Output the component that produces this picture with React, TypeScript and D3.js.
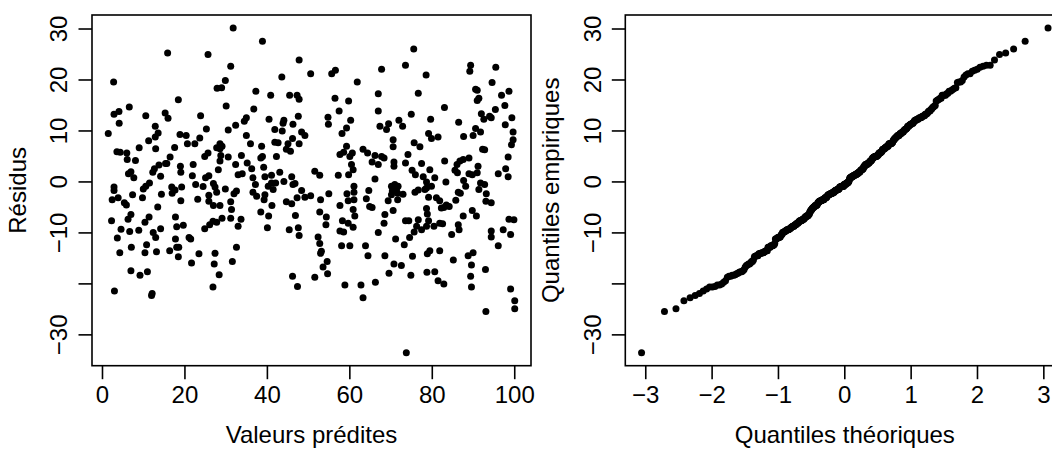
import React from "react";
import * as d3 from "d3";

// Residuals vs fitted values: [fitted, residual]
const residualPoints: [number, number][] = [
  // x 0-20, upper
  [15.8, 25.3], [2.7, 19.6], [18.4, 16.1], [2.8, 13.3], [4.0, 13.8], [6.5, 14.7], [4.05, 11.5], [10.5, 13.0],
  [15.2, 13.5], [15.9, 12.5], [1.4, 9.5], [12.8, 10.9], [13.5, 9.6], [12.8, 8.8], [11.2, 8.1], [18.8, 9.3],
  [8.9, 6.7], [12.9, 6.5], [17.5, 6.75], [3.5, 5.9], [4.3, 5.8], [5.9, 5.7], [6.0, 4.4], [8.0, 4.2],
  [16.4, 4.9], [15.6, 3.6], [13.7, 3.3], [12.6, 2.6], [12.2, 1.9], [18.9, 3.1], [19.0, 1.9], [6.3, 1.6],
  [6.9, 2.0], [7.6, 0.8], [14.1, 1.1], [11.4, -0.2], [2.8, -1.0], [10.5, -0.85], [9.9, -1.4], [16.8, -1.0],
  [17.6, -1.6], [19.2, -1.0], [15.3, 3.6],
  // x 0-20, lower
  [2.8, -1.7], [2.35, -3.5], [3.8, -3.1], [5.8, -4.5], [5.3, -4.1], [7.3, -2.5], [9.7, -3.1], [14.3, -2.4],
  [16.9, -2.2], [19.0, -3.7], [13.4, -4.9], [2.2, -7.6], [6.2, -7.3], [6.9, -6.4], [11.3, -6.9], [10.3, -7.9],
  [17.7, -6.9], [18.0, -8.8], [19.6, -8.5], [4.5, -9.3], [6.6, -9.7], [8.8, -9.5], [12.3, -9.9], [14.1, -9.2],
  [3.6, -11.0], [12.9, -10.9], [17.7, -11.2], [18.5, -12.8], [18.0, -12.8], [7.0, -12.8], [10.7, -12.3], [10.3, -13.9],
  [4.2, -13.9], [13.1, -13.7], [16.3, -13.5], [18.4, -14.7], [6.9, -17.4], [9.1, -18.3], [10.9, -17.6], [2.9, -21.4],
  [11.9, -22.3], [12.05, -21.9],
  // x 20-41, upper
  [31.7, 30.2], [38.8, 27.6], [25.6, 25.0], [31.1, 22.7], [29.8, 19.9], [27.8, 18.4], [28.9, 18.5], [37.2, 17.8],
  [40.8, 17.0], [30.0, 14.9], [36.7, 14.3], [23.8, 13.0], [34.9, 12.6], [34.4, 11.9], [40.4, 12.3], [32.3, 11.1],
  [30.5, 10.2], [25.2, 10.4], [34.9, 9.1], [20.3, 9.1], [23.6, 8.6], [22.4, 7.5], [20.6, 7.5], [28.5, 7.5],
  [35.9, 7.5], [38.6, 7.0], [27.7, 6.7], [28.5, 6.5], [29.0, 7.0], [24.8, 5.0], [25.6, 5.7], [28.7, 5.2],
  [28.5, 4.1], [30.5, 4.9], [33.7, 5.2], [38.8, 5.0], [38.4, 4.7], [22.0, 3.4], [32.3, 3.4], [35.1, 3.7],
  [36.2, 2.6], [39.1, 2.9], [28.1, 2.4], [32.9, 1.4], [33.9, 1.6], [21.8, 1.2], [25.8, 1.2], [25.0, 0.8],
  [36.5, 0.8], [39.4, 1.0], [26.9, -0.3], [22.6, -0.5], [29.8, -1.4], [37.1, -0.5], [40.2, -0.85], [24.4, -0.9],
  [27.3, -1.0],
  // x 20-41, lower
  [27.7, -2.0], [32.5, -1.8], [31.9, -2.3], [25.8, -2.6], [23.1, -3.4], [25.8, -3.8], [26.9, -4.6], [28.5, -4.6],
  [31.1, -3.9], [31.3, -5.4], [36.5, -2.0], [37.4, -2.8], [39.4, -2.5], [39.2, -3.5], [41.1, -4.6], [38.4, -5.9],
  [40.3, -6.7], [29.0, -7.1], [31.1, -7.1], [33.6, -7.3], [27.7, -7.9], [26.8, -7.7], [26.0, -8.4], [24.8, -9.2],
  [32.9, -8.7], [40.0, -9.0], [21.0, -10.9], [21.4, -11.2], [32.5, -12.8], [23.4, -14.1], [27.3, -14.0], [21.6, -15.9],
  [27.1, -16.1], [31.5, -15.6], [28.3, -18.2], [26.8, -20.6],
  // x 41-62, upper
  [47.7, 23.9], [43.5, 20.6], [50.5, 21.2], [55.6, 21.2], [56.5, 21.9], [61.8, 19.6], [45.4, 17.0], [47.2, 17.0],
  [47.7, 16.2], [56.4, 16.4], [59.7, 15.9], [57.4, 13.9], [47.5, 12.9], [54.7, 12.7], [54.8, 11.3], [44.0, 12.1],
  [43.8, 11.5], [46.2, 11.3], [60.2, 12.1], [59.2, 10.6], [41.8, 10.3], [43.6, 10.0], [48.3, 9.8], [49.1, 9.1],
  [58.1, 9.5], [46.1, 8.5], [41.8, 7.8], [42.6, 7.7], [45.0, 7.5], [44.6, 6.4], [45.6, 6.0], [47.7, 7.5],
  [42.2, 5.0], [59.2, 7.0], [58.5, 5.8], [57.6, 5.4], [60.0, 5.0], [60.6, 5.7], [60.4, 3.4], [60.8, 2.4],
  [59.7, 1.4], [51.5, 2.1], [52.7, 1.3], [57.2, 1.3], [43.0, 1.9], [41.0, 1.3], [45.9, 1.0], [44.0, 0.1],
  [42.0, -0.2], [41.0, -0.2], [46.2, -0.5], [46.7, -0.3], [61.0, -0.85],
  // x 41-62, lower
  [41.4, -1.5], [48.3, -1.7], [47.2, -3.1], [49.1, -3.0], [50.5, -2.7], [44.6, -3.9], [45.9, -4.3], [52.9, -3.5],
  [54.9, -2.3], [59.3, -2.3], [59.6, -3.7], [61.0, -3.5], [61.0, -2.0], [57.6, -4.6], [60.8, -5.4], [61.2, -6.7],
  [46.8, -6.6], [52.7, -5.9], [54.3, -6.9], [58.2, -7.6], [59.6, -8.1], [60.8, -8.9], [54.2, -8.4], [45.3, -9.4],
  [47.5, -9.0], [47.7, -10.5], [57.6, -9.6], [58.5, -9.8], [52.3, -10.8], [52.7, -12.1], [53.1, -13.6], [52.9, -14.0],
  [58.0, -12.5], [60.0, -12.5], [54.5, -15.6], [53.5, -16.7], [54.6, -18.0], [46.1, -18.5], [51.5, -18.7], [47.3, -20.5],
  [58.8, -20.2],
  // x 62-82, upper
  [75.5, 26.1], [73.5, 22.9], [67.7, 22.1], [78.5, 21.0], [66.9, 17.3], [76.6, 17.4], [66.9, 13.9], [74.9, 13.3],
  [79.6, 12.3], [71.9, 12.1], [72.8, 10.9], [67.3, 10.9], [68.9, 10.3], [69.4, 11.4], [79.1, 9.5], [79.8, 8.5],
  [81.4, 8.8], [70.5, 8.3], [70.5, 6.9], [75.6, 7.7], [77.0, 6.9], [63.2, 6.4], [64.3, 5.7], [66.1, 5.2],
  [67.7, 5.0], [66.9, 3.4], [68.3, 4.7], [65.4, 3.9], [70.7, 3.9], [70.7, 3.1], [73.5, 3.7], [74.1, 5.4],
  [77.4, 3.6], [79.4, 2.4], [75.1, 2.3], [75.9, 1.4], [77.8, 1.0], [78.6, 0.0], [80.6, 0.8], [66.1, 0.6],
  [70.1, -0.85], [71.3, -1.5], [70.9, -0.5], [71.7, -0.85], [76.6, -1.6], [78.6, -1.2], [79.8, -0.85],
  // x 62-82, lower
  [64.6, -1.7], [64.0, -3.3], [70.3, -1.8], [71.6, -2.2], [70.1, -2.5], [72.9, -2.4], [69.3, -3.7], [71.6, -3.5],
  [75.8, -2.0], [78.2, -1.5], [79.1, -3.0], [81.0, -3.1], [81.8, -3.7], [78.6, -5.2], [78.8, -6.3], [82.2, -5.1],
  [68.5, -6.4], [68.3, -8.1], [70.5, -5.6], [66.9, -9.9], [73.5, -7.6], [74.3, -7.6], [76.6, -7.4], [76.2, -8.7],
  [75.6, -9.8], [77.4, -9.4], [78.6, -8.7], [79.1, -7.6], [80.4, -8.7], [81.8, -8.1], [74.5, -10.9], [71.1, -11.2],
  [73.2, -12.3], [63.8, -12.5], [64.4, -14.5], [68.5, -14.5], [75.2, -14.6], [70.7, -16.1], [72.5, -16.4], [78.8, -14.1],
  [79.4, -13.5], [81.8, -13.5], [78.7, -17.7], [80.6, -17.6], [69.5, -17.9], [74.8, -18.3], [81.4, -19.4], [62.7, -20.2],
  [66.2, -19.7], [63.2, -22.7], [73.7, -33.5], [64.8, -4.8], [65.4, -5.0],
  // x 82-100, upper
  [89.3, 22.9], [89.1, 21.7], [95.4, 22.5], [94.5, 19.5], [90.5, 18.2], [90.9, 18.0], [90.9, 16.0], [91.3, 16.4],
  [96.8, 17.0], [98.6, 17.8], [97.6, 15.0], [82.95, 14.6], [91.9, 13.4], [95.3, 14.2], [94.3, 12.6], [93.9, 12.9],
  [92.5, 12.3], [99.3, 12.6], [86.4, 11.7], [97.7, 11.2], [90.5, 10.5], [91.7, 9.8], [99.6, 9.8], [99.6, 8.3],
  [99.2, 7.3], [89.9, 9.1], [87.6, 8.9], [92.2, 6.4], [92.7, 6.3], [98.4, 4.9], [83.0, 4.1], [88.9, 4.7],
  [87.5, 4.4], [86.7, 4.1], [86.0, 3.4], [85.5, 2.3], [91.1, 3.1], [86.1, 1.8], [88.9, 1.6], [89.7, 1.4],
  [90.9, 1.8], [97.8, 2.6], [96.0, 1.6], [98.4, 1.0], [83.3, 0.0], [87.6, 0.3], [88.1, -0.85], [91.7, -0.2],
  [92.7, -0.5],
  // x 82-100, lower
  [86.8, -2.2], [86.3, -2.0], [93.1, -2.3], [91.3, -1.5], [94.3, -4.1], [93.0, -3.8], [83.4, -4.5], [82.8, -5.0],
  [84.1, -4.8], [85.7, -3.6], [89.7, -5.6], [90.7, -6.7], [87.5, -6.7], [98.6, -7.3], [99.8, -7.4], [82.5, -8.2],
  [86.3, -8.4], [86.5, -9.4], [84.7, -10.3], [94.3, -9.6], [94.3, -10.8], [97.2, -9.4], [99.0, -10.3], [96.0, -12.5],
  [85.1, -15.3], [88.7, -14.5], [89.9, -13.9], [89.5, -16.3], [92.9, -17.2], [89.3, -18.5], [82.8, -20.0], [89.5, -20.6],
  [99.0, -21.0], [100.0, -23.3], [100.0, -24.9], [93.0, -25.4],
];

const fittedValues = residualPoints.map((p) => p[0]);
const residualValues = residualPoints.map((p) => p[1]);

const leftXTicks = [0, 20, 40, 60, 80, 100];
const rightXTicks = [-3, -2, -1, 0, 1, 2, 3];
const yTicks = [-30, -20, -10, 0, 10, 20, 30];
const yTickLabelShown = [true, false, true, true, true, true, true];

const leftXTitle = "Valeurs prédites";
const leftYTitle = "Résidus";
const rightXTitle = "Quantiles théoriques";
const rightYTitle = "Quantiles empiriques";

// inverse standard normal CDF (Acklam) for theoretical quantiles
function qnorm(p: number): number {
  const a = [-3.969683028665376e1, 2.209460984245205e2, -2.759285104469687e2, 1.38357751867269e2, -3.066479806614716e1, 2.506628277459239];
  const b = [-5.447609879822406e1, 1.615858368580409e2, -1.556989798598866e2, 6.680131188771972e1, -1.328068155288572e1];
  const c = [-7.784894002430293e-3, -3.223964580411365e-1, -2.400758277161838, -2.549732539343734, 4.374664141464968, 2.938163982698783];
  const d = [7.784695709041462e-3, 3.224671290700398e-1, 2.445134137142996, 3.754408661907416];
  const pl = 0.02425;
  if (p < pl) {
    const q = Math.sqrt(-2 * Math.log(p));
    return (((((c[0] * q + c[1]) * q + c[2]) * q + c[3]) * q + c[4]) * q + c[5]) / ((((d[0] * q + d[1]) * q + d[2]) * q + d[3]) * q + 1);
  }
  if (p <= 1 - pl) {
    const q = p - 0.5;
    const r = q * q;
    return ((((((a[0] * r + a[1]) * r + a[2]) * r + a[3]) * r + a[4]) * r + a[5]) * q) / (((((b[0] * r + b[1]) * r + b[2]) * r + b[3]) * r + b[4]) * r + 1);
  }
  const q = Math.sqrt(-2 * Math.log(1 - p));
  return -(((((c[0] * q + c[1]) * q + c[2]) * q + c[3]) * q + c[4]) * q + c[5]) / ((((d[0] * q + d[1]) * q + d[2]) * q + d[3]) * q + 1);
}

const fmt = (v: number) => (v < 0 ? "\u2212" + Math.abs(v) : String(v));

function padded(ext: [number, number]): [number, number] {
  const r = ext[1] - ext[0];
  return [ext[0] - 0.04 * r, ext[1] + 0.04 * r];
}

const FONT = "'Liberation Sans', Arial, Helvetica, sans-serif";
const FS = 24;

export default function App() {
  const W = 1052;
  const H = 451;
  const top = 15;
  const bottom = 365.7;
  const panels = [
    { x0: 92, x1: 531 },
    { x0: 625.3, x1: 1064.3 },
  ];
  const tick = 13.5;
  const n = residualValues.length;

  const sorted = residualValues.slice().sort((a, b) => a - b);
  const theo = sorted.map((_, i) => qnorm((i + 1 - 0.5) / n));

  const y = d3
    .scaleLinear()
    .domain(padded(d3.extent(residualValues) as [number, number]))
    .range([bottom, top]);
  const xL = d3
    .scaleLinear()
    .domain(padded(d3.extent(fittedValues) as [number, number]))
    .range([panels[0].x0, panels[0].x1]);
  const xR = d3
    .scaleLinear()
    .domain(padded(d3.extent(theo) as [number, number]))
    .range([panels[1].x0, panels[1].x1]);

  const renderPanel = (
    p: { x0: number; x1: number },
    xs: d3.ScaleLinear<number, number>,
    xt: number[],
    xTitle: string,
    yTitle: string,
    pts: [number, number][]
  ) => {
    const cx = (p.x0 + p.x1) / 2;
    const cy = (top + bottom) / 2;
    const yLabX = p.x0 - 24.7;
    const yTitleX = p.x0 - 65.9;
    return (
      <g>
        <g>
          {pts.map((d, i) => (
            <circle key={i} cx={xs(d[0])} cy={y(d[1])} r={3.5} fill="#000" />
          ))}
        </g>
        <rect x={p.x0} y={top} width={p.x1 - p.x0} height={bottom - top} fill="none" stroke="#000" strokeWidth={1.6} />
        {xt.map((t) => (
          <g key={"x" + t}>
            <line x1={xs(t)} x2={xs(t)} y1={bottom} y2={bottom + tick} stroke="#000" strokeWidth={1.6} />
            <text x={xs(t)} y={403.3} textAnchor="middle" fontSize={FS} fontFamily={FONT} fill="#000">
              {fmt(t)}
            </text>
          </g>
        ))}
        {yTicks.map((t, i) => (
          <g key={"y" + t}>
            <line x1={p.x0} x2={p.x0 - tick} y1={y(t)} y2={y(t)} stroke="#000" strokeWidth={1.6} />
            {yTickLabelShown[i] && (
              <text
                transform={`translate(${yLabX},${y(t)}) rotate(-90)`}
                textAnchor="middle"
                fontSize={FS}
                fontFamily={FONT}
                fill="#000"
              >
                {fmt(t)}
              </text>
            )}
          </g>
        ))}
        <text x={cx} y={443} textAnchor="middle" fontSize={FS} fontFamily={FONT} fill="#000">
          {xTitle}
        </text>
        <text
          transform={`translate(${yTitleX},${cy}) rotate(-90)`}
          textAnchor="middle"
          fontSize={FS}
          fontFamily={FONT}
          fill="#000"
        >
          {yTitle}
        </text>
      </g>
    );
  };

  const qqPts: [number, number][] = sorted.map((v, i) => [theo[i], v]);

  return (
    <svg
      width={W}
      height={H}
      viewBox={`0 0 ${W} ${H}`}
      style={{ position: "absolute", left: 0, top: 0, display: "block", background: "#fff" }}
    >
      <rect x={0} y={0} width={W} height={H} fill="#fff" />
      {renderPanel(panels[0], xL, leftXTicks, leftXTitle, leftYTitle, residualPoints)}
      {renderPanel(panels[1], xR, rightXTicks, rightXTitle, rightYTitle, qqPts)}
    </svg>
  );
}
